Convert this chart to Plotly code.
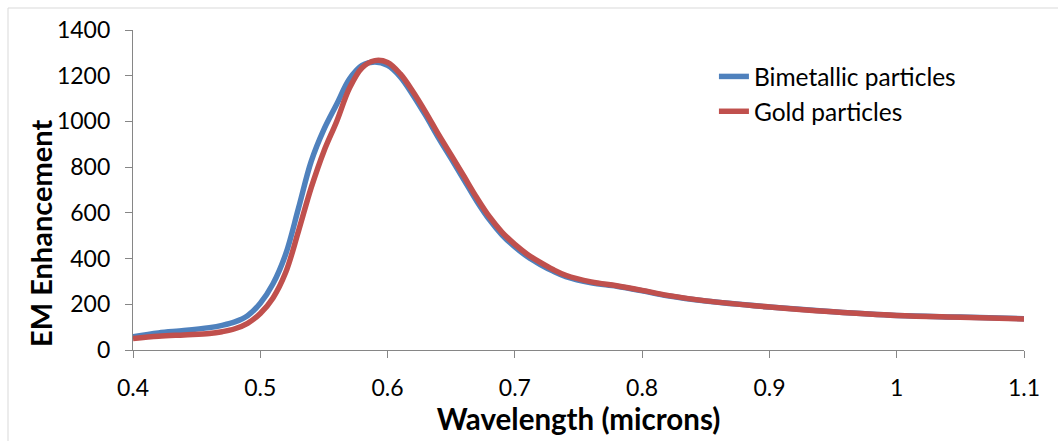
import plotly.graph_objects as go

wavelength = [0.40, 0.42, 0.44, 0.46, 0.47, 0.48, 0.49, 0.50, 0.51, 0.52, 0.53, 0.54, 0.55,
              0.56, 0.57, 0.58, 0.59, 0.60, 0.61, 0.62, 0.63, 0.64, 0.65, 0.66, 0.67,
              0.68, 0.69, 0.70, 0.71, 0.72, 0.73, 0.74, 0.76, 0.78, 0.80, 0.82, 0.85,
              0.90, 0.95, 1.00, 1.05, 1.10]

bimetallic = [58, 75, 85, 98, 108, 123, 150, 205, 290, 420, 620, 825, 965,
              1075, 1185, 1245, 1260, 1245, 1195, 1115, 1025, 928, 837, 745, 652,
              570, 503, 451, 408, 374, 345, 321, 294, 279, 259, 237, 214,
              188, 167, 151, 144, 137]

gold = [50, 60, 66, 72, 80, 93, 117, 160, 228, 340, 520, 710, 870,
        1000, 1145, 1235, 1266, 1258, 1208, 1130, 1040, 943, 852, 760, 667,
        583, 515, 462, 418, 383, 352, 327, 298, 281, 261, 239, 215,
        188, 167, 151, 143, 136]

series_names = ["Bimetallic particles", "Gold particles"]
x_ticks = [0.4, 0.5, 0.6, 0.7, 0.8, 0.9, 1.0, 1.1]
x_tick_labels = ["0.4", "0.5", "0.6", "0.7", "0.8", "0.9", "1", "1.1"]
y_ticks = [0, 200, 400, 600, 800, 1000, 1200, 1400]

FONT = "Lato"
AXIS_COLOR = "#868686"

fig = go.Figure()
fig.add_trace(go.Scatter(x=wavelength, y=bimetallic, name=series_names[0], mode="lines",
                         line=dict(color="#4F81BD", width=5.5, shape="spline", smoothing=1),
                         legendgroup="a"))
fig.add_trace(go.Scatter(x=wavelength, y=gold, name=series_names[1], mode="lines",
                         line=dict(color="#C0504D", width=5.5, shape="spline", smoothing=1),
                         legendgroup="b"))

fig.update_layout(
    width=1058, height=441,
    margin=dict(l=133, r=34, t=30, b=91),
    paper_bgcolor="white", plot_bgcolor="white",
    font=dict(family=FONT, color="black", size=23),
    showlegend=True,
    legend=dict(x=0.652, y=0.925, xanchor="left", yanchor="top",
                font=dict(family=FONT, size=24.5, color="black"),
                bgcolor="rgba(0,0,0,0)", tracegroupgap=4, traceorder="normal"),
    xaxis=dict(range=[0.4, 1.1], tickvals=x_ticks, ticktext=x_tick_labels,
               showgrid=False, zeroline=False, showline=True, linecolor=AXIS_COLOR, linewidth=1.2,
               ticks="outside", ticklen=7, tickcolor=AXIS_COLOR, tickwidth=1.2,
               tickfont=dict(family=FONT, size=23), ticklabelstandoff=10,
               title=dict(text="<b>Wavelength (microns)</b>", font=dict(family=FONT, size=29.5), standoff=8)),
    yaxis=dict(range=[0, 1400], tickvals=y_ticks,
               showgrid=False, zeroline=False, showline=True, linecolor=AXIS_COLOR, linewidth=1.2,
               ticks="outside", ticklen=7, tickcolor=AXIS_COLOR, tickwidth=1.2,
               tickfont=dict(family=FONT, size=23), ticklabelstandoff=10),
    annotations=[dict(text="<b>EM Enhancement</b>", textangle=-90, showarrow=False,
                      xref="paper", yref="paper", x=(40 - 133) / 891, y=(350 - 234) / 320,
                      xanchor="center", yanchor="middle",
                      font=dict(family=FONT, size=29, color="black"))],
    shapes=[dict(type="rect", xref="paper", yref="paper",
                 x0=(8 - 133) / 891, x1=(1070 - 133) / 891,
                 y0=(350 - 460) / 320, y1=(350 - 8) / 320,
                 line=dict(color="#D9D9D9", width=1), fillcolor="rgba(0,0,0,0)", layer="below")],
)

fig.write_html("out.html")
